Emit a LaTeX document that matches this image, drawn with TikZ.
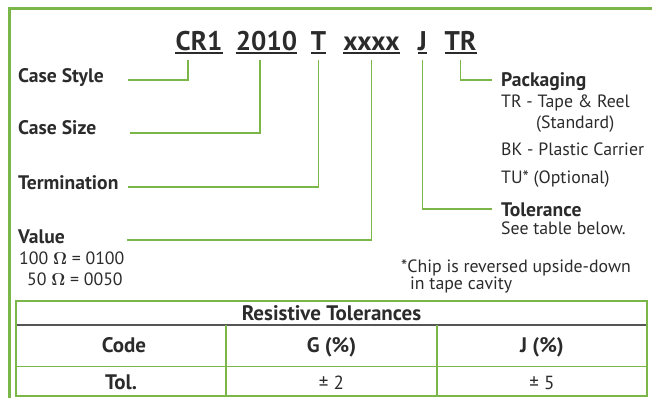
\documentclass[tikz,border=0pt]{standalone}
\usepackage{fontspec}
\setmainfont{PT Sans}
\usetikzlibrary{positioning}
\definecolor{framegreen}{HTML}{7AB648}
\definecolor{inkgray}{HTML}{2B2B2B}
\definecolor{rulegray}{HTML}{555555}
\tikzset{
  lead/.style={framegreen, line width=1.3pt},
  codepart/.style={font=\fontsize{27}{30}\selectfont\bfseries, text=inkgray, inner sep=0pt, anchor=base},
  caption/.style={font=\fontsize{19.6}{22}\selectfont\bfseries, text=inkgray, inner sep=0pt, anchor=base west},
  note/.style={font=\fontsize{17.8}{20}\selectfont, text=inkgray, inner sep=0pt, anchor=base west},
  headcell/.style={font=\fontsize{21}{24}\selectfont\bfseries, text=inkgray, inner sep=0pt, anchor=base},
  bodycell/.style={font=\fontsize{19}{22}\selectfont, text=inkgray, inner sep=0pt, anchor=base}
}
\begin{document}
\begin{tikzpicture}[x=1pt,y=-1pt]
  \useasboundingbox (0,0) rectangle (652,398);
  % outer frame
  \draw[framegreen, line width=3pt] (9,398) -- (9,9) -- (652,9);
  % part number
  \node[codepart] (cr1)   at (199,50.5)   {CR1};
  \node[codepart] (csize) at (266.5,50.5) {2010};
  \node[codepart] (cterm) at (318.5,50.5) {T};
  \node[codepart] (cval)  at (371.5,50.5) {xxxx};
  \node[codepart] (ctol)  at (422.5,50.5) {J};
  \node[codepart] (cpack) at (460.5,50.5) {TR};
  \foreach \p in {cr1,csize,cterm,cval,ctol,cpack}
    \draw[inkgray, line width=1.6pt] ([yshift=-2.6pt]\p.base west) -- ([yshift=-2.6pt]\p.base east);
  % left labels
  \node[caption] (lstyle) at (18,83)  {Case Style};
  \node[caption] (lsize)  at (18,135) {Case Size};
  \node[caption] (lterm)  at (18,189) {Termination};
  \node[caption] (lval)   at (18,243) {Value};
  \node[note] (ohms1) at (19,264) {100 {\boldmath$\Omega$} = 0100};
  \node[note] (ohms2) at (27,285) {50 {\boldmath$\Omega$} = 0050};
  % right labels
  \node[caption] (lpack) at (501,87) {Packaging};
  \node[note] (tr)  at (501,108) {TR - Tape \& Reel};
  \node[note] (std) at (536,129) {(Standard)};
  \node[note] (bk)  at (501,156) {BK - Plastic Carrier};
  \node[note] (tu)  at (501,183) {TU* (Optional)};
  \node[caption] (ltol) at (501,216) {Tolerance};
  \node[note] (seetab) at (501,234) {See table below.};
  \node[note] (chip1) at (401,272) {*Chip is reversed upside-down};
  \node[note] (chip2) at (410,289) {in tape cavity};
  % free ends of the leads
  \coordinate (styleend) at (128,80);
  \coordinate (sizeend)  at (130,133);
  \coordinate (termend)  at (128,187);
  \coordinate (valend)   at (127,240);
  \coordinate (tolend)   at (492,209);
  \coordinate (packend)  at (492,80);
  % leads
  \draw[lead] ([xshift=-11pt,yshift=-10pt]cr1.base) |- (styleend);
  \draw[lead] ([xshift=-6.5pt,yshift=-10pt]csize.base) |- (sizeend);
  \draw[lead] ([yshift=-10pt]cterm.base) |- (termend);
  \draw[lead] ([yshift=-10pt]cval.base) |- (valend);
  \draw[lead] ([yshift=-10pt]ctol.base) |- (tolend);
  \draw[lead] ([yshift=-10pt]cpack.base) |- (packend);
  % tolerance table
  \draw[framegreen, line width=2pt] (16,301) rectangle (647,396);
  \draw[rulegray, line width=1.5pt] (17,325) -- (646,325);
  \draw[framegreen, line width=1pt] (17,366) -- (646,366);
  \draw[framegreen, line width=2pt] (226,325) -- (226,396);
  \draw[framegreen, line width=2pt] (437,325) -- (437,396);
  \node[headcell] (title) at (331.5,320) {Resistive Tolerances};
  \node[headcell] (hcode) at (124,352) {Code};
  \node[headcell] (hg)    at (331.5,352) {G (\%)};
  \node[headcell] (hj)    at (542,352) {J (\%)};
  \node[headcell] (rtol)  at (121,389) {Tol.};
  \node[bodycell] (vg)    at (331.5,389) {± 2};
  \node[bodycell] (vj)    at (542,389) {± 5};
\end{tikzpicture}
\end{document}
